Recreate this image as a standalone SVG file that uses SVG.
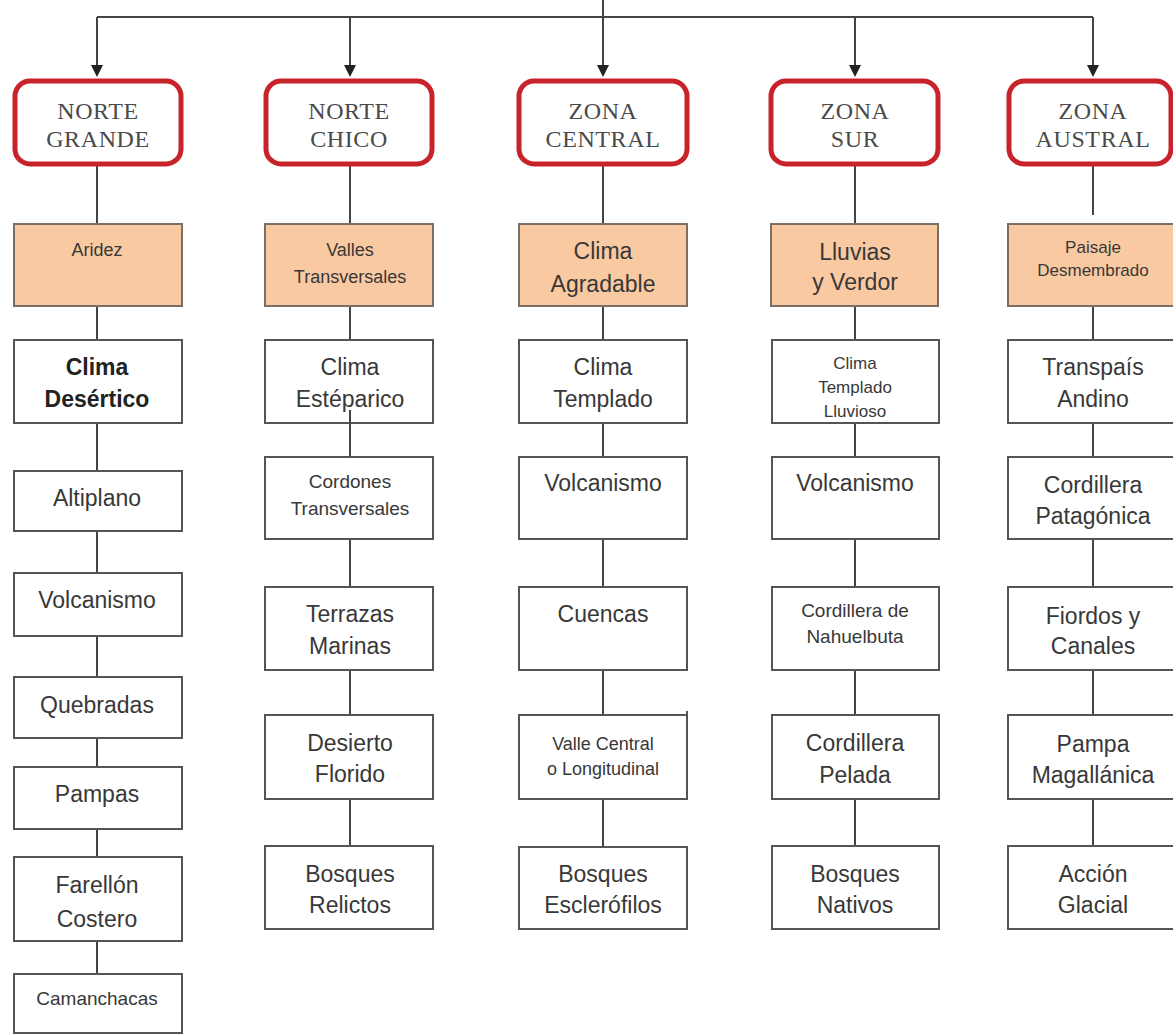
<svg xmlns="http://www.w3.org/2000/svg" width="1173" height="1035" viewBox="0 0 1173 1035">
<style>
.bg{fill:#ffffff}
.zone rect{fill:#ffffff;stroke:#c8232b;stroke-width:5}
.zone text{font-family:"Liberation Serif","Times New Roman",serif;font-size:24px;letter-spacing:0.6px;fill:#4a4a4a;text-anchor:middle}
.feat rect{fill:#f9c9a1;stroke:#7d6e64;stroke-width:2}
.box rect{fill:#ffffff;stroke:#555555;stroke-width:2}
.feat text,.box text{font-family:"Liberation Sans",Arial,sans-serif;font-size:23px;fill:#383838;text-anchor:middle}
.s19{font-size:19px !important}
.s18{font-size:18px !important}
.s17{font-size:17px !important}
.b{font-weight:bold;fill:#222222 !important}
.con line{stroke:#444444;stroke-width:2}
</style>
<rect class="bg" x="0" y="0" width="1173" height="1035"/>

<g id="connectors" class="con">
<line x1="97" y1="17" x2="1093" y2="17"/>
<line x1="603" y1="0" x2="603" y2="17"/>
<line x1="97" y1="17" x2="97" y2="66"/>
<line x1="350" y1="17" x2="350" y2="66"/>
<line x1="603" y1="17" x2="603" y2="66"/>
<line x1="855" y1="17" x2="855" y2="66"/>
<line x1="1093" y1="17" x2="1093" y2="66"/>
<!-- col1 -->
<line x1="97" y1="164" x2="97" y2="224"/>
<line x1="97" y1="306" x2="97" y2="340"/>
<line x1="97" y1="423" x2="97" y2="471"/>
<line x1="97" y1="531" x2="97" y2="573"/>
<line x1="97" y1="636" x2="97" y2="677"/>
<line x1="97" y1="738" x2="97" y2="767"/>
<line x1="97" y1="829" x2="97" y2="857"/>
<line x1="97" y1="941" x2="97" y2="974"/>
<!-- col2 -->
<line x1="350" y1="164" x2="350" y2="224"/>
<line x1="350" y1="306" x2="350" y2="340"/>
<line x1="350" y1="539" x2="350" y2="587"/>
<line x1="350" y1="670" x2="350" y2="715"/>
<line x1="350" y1="799" x2="350" y2="846"/>
<!-- col3 -->
<line x1="603" y1="164" x2="603" y2="224"/>
<line x1="603" y1="306" x2="603" y2="340"/>
<line x1="603" y1="423" x2="603" y2="457"/>
<line x1="603" y1="539" x2="603" y2="587"/>
<line x1="603" y1="670" x2="603" y2="715"/>
<line x1="603" y1="799" x2="603" y2="847"/>
<!-- col4 -->
<line x1="855" y1="164" x2="855" y2="224"/>
<line x1="855" y1="306" x2="855" y2="340"/>
<line x1="855" y1="423" x2="855" y2="457"/>
<line x1="855" y1="539" x2="855" y2="587"/>
<line x1="855" y1="670" x2="855" y2="715"/>
<line x1="855" y1="799" x2="855" y2="846"/>
<!-- col5 -->
<line x1="1093" y1="160" x2="1093" y2="215"/>
<line x1="1093" y1="306" x2="1093" y2="340"/>
<line x1="1093" y1="423" x2="1093" y2="457"/>
<line x1="1093" y1="539" x2="1093" y2="587"/>
<line x1="1093" y1="670" x2="1093" y2="715"/>
<line x1="1093" y1="799" x2="1093" y2="846"/>
</g>

<g id="arrowheads" fill="#222222">
<polygon points="91,65 103,65 97,77"/>
<polygon points="344,65 356,65 350,77"/>
<polygon points="597,65 609,65 603,77"/>
<polygon points="849,65 861,65 855,77"/>
<polygon points="1087,65 1099,65 1093,77"/>
</g>

<!-- Zone headers -->
<g id="norte-grande" class="zone"><rect x="15" y="81" width="166" height="83" rx="15"/><text x="98" y="119">NORTE</text><text x="98" y="147">GRANDE</text></g>
<g id="norte-chico" class="zone"><rect x="266" y="81" width="166" height="83" rx="15"/><text x="349" y="119">NORTE</text><text x="349" y="147">CHICO</text></g>
<g id="zona-central" class="zone"><rect x="519" y="81" width="168" height="83" rx="15"/><text x="603" y="119">ZONA</text><text x="603" y="147">CENTRAL</text></g>
<g id="zona-sur" class="zone"><rect x="771" y="81" width="167" height="83" rx="15"/><text x="855" y="119">ZONA</text><text x="855" y="147">SUR</text></g>
<g id="zona-austral" class="zone"><rect x="1009" y="81" width="162" height="83" rx="15"/><text x="1093" y="119">ZONA</text><text x="1093" y="147">AUSTRAL</text></g>

<!-- Features -->
<g id="aridez" class="feat"><rect x="14" y="224" width="168" height="82"/><text class="s18" x="97" y="256">Aridez</text></g>
<g id="valles" class="feat"><rect x="265" y="224" width="168" height="82"/><text class="s18" x="350" y="256">Valles</text><text class="s18" x="350" y="283">Transversales</text></g>
<g id="clima-agradable" class="feat"><rect x="519" y="224" width="168" height="82"/><text x="603" y="259">Clima</text><text x="603" y="292">Agradable</text></g>
<g id="lluvias" class="feat"><rect x="771" y="224" width="167" height="82"/><text x="855" y="260">Lluvias</text><text x="855" y="290">y Verdor</text></g>
<g id="paisaje" class="feat"><rect x="1008" y="224" width="175" height="82"/><text class="s17" x="1093" y="253">Paisaje</text><text class="s17" x="1093" y="276">Desmembrado</text></g>

<!-- Column 1 -->
<g id="c1-clima" class="box"><rect x="14" y="340" width="168" height="83"/><text class="b" x="97" y="375">Clima</text><text class="b" x="97" y="407">Desértico</text></g>
<g id="c1-altiplano" class="box"><rect x="14" y="471" width="168" height="60"/><text x="97" y="506">Altiplano</text></g>
<g id="c1-volcanismo" class="box"><rect x="14" y="573" width="168" height="63"/><text x="97" y="608">Volcanismo</text></g>
<g id="c1-quebradas" class="box"><rect x="14" y="677" width="168" height="61"/><text x="97" y="713">Quebradas</text></g>
<g id="c1-pampas" class="box"><rect x="14" y="767" width="168" height="62"/><text x="97" y="802">Pampas</text></g>
<g id="c1-farellon" class="box"><rect x="14" y="857" width="168" height="84"/><text x="97" y="893">Farellón</text><text x="97" y="927">Costero</text></g>
<g id="c1-camanchacas" class="box"><rect x="14" y="974" width="168" height="59"/><text class="s19" x="97" y="1005">Camanchacas</text></g>

<!-- Column 2 -->
<g id="c2-clima" class="box"><rect x="265" y="340" width="168" height="83"/><text x="350" y="375">Clima</text><text x="350" y="407">Estéparico</text></g>
<g id="c2-cordones" class="box"><rect x="265" y="457" width="168" height="82"/><text class="s19" x="350" y="488">Cordones</text><text class="s19" x="350" y="515">Transversales</text></g>
<g id="c2-terrazas" class="box"><rect x="265" y="587" width="168" height="83"/><text x="350" y="622">Terrazas</text><text x="350" y="654">Marinas</text></g>
<g id="c2-desierto" class="box"><rect x="265" y="715" width="168" height="84"/><text x="350" y="751">Desierto</text><text x="350" y="782">Florido</text></g>
<g id="c2-bosques" class="box"><rect x="265" y="846" width="168" height="83"/><text x="350" y="882">Bosques</text><text x="350" y="913">Relictos</text></g>

<!-- Column 3 -->
<g id="c3-clima" class="box"><rect x="519" y="340" width="168" height="83"/><text x="603" y="375">Clima</text><text x="603" y="407">Templado</text></g>
<g id="c3-volcanismo" class="box"><rect x="519" y="457" width="168" height="82"/><text x="603" y="491">Volcanismo</text></g>
<g id="c3-cuencas" class="box"><rect x="519" y="587" width="168" height="83"/><text x="603" y="622">Cuencas</text></g>
<g id="c3-valle" class="box"><rect x="519" y="715" width="168" height="84"/><line x1="687" y1="711" x2="687" y2="716" stroke="#555555" stroke-width="2"/><text class="s18" x="603" y="750">Valle Central</text><text class="s18" x="603" y="775">o Longitudinal</text></g>
<g id="c3-bosques" class="box"><rect x="519" y="847" width="168" height="82"/><text x="603" y="882">Bosques</text><text x="603" y="913">Esclerófilos</text></g>

<!-- Column 4 -->
<g id="c4-clima" class="box"><rect x="772" y="340" width="167" height="83"/><text class="s17" x="855" y="369">Clima</text><text class="s17" x="855" y="393">Templado</text><text class="s17" x="855" y="417">Lluvioso</text></g>
<g id="c4-volcanismo" class="box"><rect x="772" y="457" width="167" height="82"/><text x="855" y="491">Volcanismo</text></g>
<g id="c4-nahuelbuta" class="box"><rect x="772" y="587" width="167" height="83"/><text class="s19" x="855" y="617">Cordillera de</text><text class="s19" x="855" y="643">Nahuelbuta</text></g>
<g id="c4-pelada" class="box"><rect x="772" y="715" width="167" height="84"/><text x="855" y="751">Cordillera</text><text x="855" y="783">Pelada</text></g>
<g id="c4-bosques" class="box"><rect x="772" y="846" width="167" height="83"/><text x="855" y="882">Bosques</text><text x="855" y="913">Nativos</text></g>

<!-- Column 5 -->
<g id="c5-transpais" class="box"><rect x="1008" y="340" width="175" height="83"/><text x="1093" y="375">Transpaís</text><text x="1093" y="407">Andino</text></g>
<g id="c5-cordillera" class="box"><rect x="1008" y="457" width="175" height="82"/><text x="1093" y="493">Cordillera</text><text x="1093" y="524">Patagónica</text></g>
<g id="c5-fiordos" class="box"><rect x="1008" y="587" width="175" height="83"/><text x="1093" y="624">Fiordos y</text><text x="1093" y="654">Canales</text></g>
<g id="c5-pampa" class="box"><rect x="1008" y="715" width="175" height="84"/><text x="1093" y="752">Pampa</text><text x="1093" y="783">Magallánica</text></g>
<g id="c5-accion" class="box"><rect x="1008" y="846" width="175" height="83"/><text x="1093" y="882">Acción</text><text x="1093" y="913">Glacial</text></g>

<!-- connector overlapping into Clima Estéparico -->
<g id="c2-overlap" class="con"><line x1="350" y1="410" x2="350" y2="457"/></g>
</svg>
